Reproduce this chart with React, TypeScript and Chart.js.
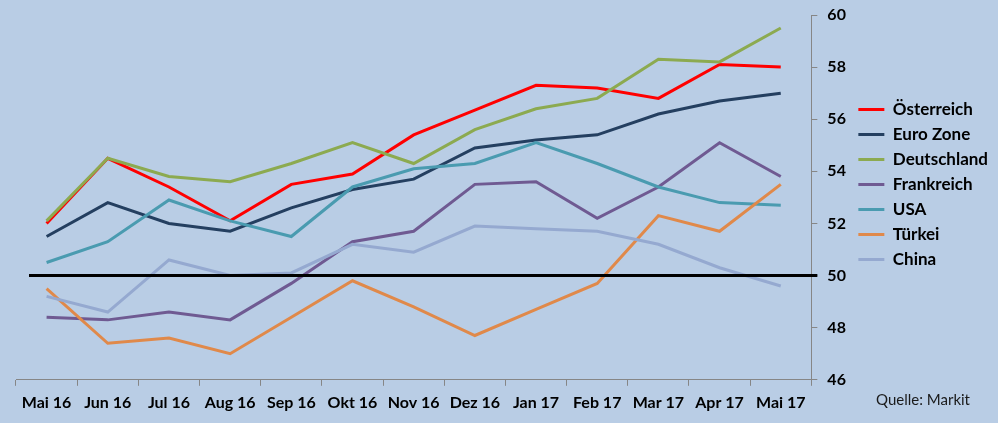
import React, { useEffect, useRef } from 'react';
import { Chart, registerables } from 'chart.js';

Chart.register(...registerables);

const categories = ['Mai 16', 'Jun 16', 'Jul 16', 'Aug 16', 'Sep 16', 'Okt 16', 'Nov 16', 'Dez 16', 'Jan 17', 'Feb 17', 'Mar 17', 'Apr 17', 'Mai 17'];

const oesterreich = [52.0, 54.5, 53.4, 52.1, 53.5, 53.9, 55.4, 56.35, 57.3, 57.2, 56.8, 58.1, 58.0];
const euroZone = [51.5, 52.8, 52.0, 51.7, 52.6, 53.3, 53.7, 54.9, 55.2, 55.4, 56.2, 56.7, 57.0];
const deutschland = [52.1, 54.5, 53.8, 53.6, 54.3, 55.1, 54.3, 55.6, 56.4, 56.8, 58.3, 58.2, 59.5];
const frankreich = [48.4, 48.3, 48.6, 48.3, 49.7, 51.3, 51.7, 53.5, 53.6, 52.2, 53.4, 55.1, 53.8];
const usa = [50.5, 51.3, 52.9, 52.1, 51.5, 53.4, 54.1, 54.3, 55.1, 54.3, 53.4, 52.8, 52.7];
const tuerkei = [49.5, 47.4, 47.6, 47.0, 48.4, 49.8, 48.8, 47.7, 48.7, 49.7, 52.3, 51.7, 53.5];
const china = [49.2, 48.6, 50.6, 50.0, 50.1, 51.2, 50.9, 51.9, 51.8, 51.7, 51.2, 50.3, 49.6];

const seriesNames = ['Österreich', 'Euro Zone', 'Deutschland', 'Frankreich', 'USA', 'Türkei', 'China'];
const seriesValues = [oesterreich, euroZone, deutschland, frankreich, usa, tuerkei, china];
const seriesColors = ['#FF0000', '#243F60', '#8CAA50', '#6F5A92', '#4A9BB0', '#E0894A', '#95A9D0'];

const yMin = 46;
const yMax = 60;
const yStep = 2;
const thresholdValue = 50;
const sourceText = 'Quelle: Markit';

const FONT = 'Lato, "Open Sans", sans-serif';

const thresholdPlugin = {
  id: 'thresholdLine',
  afterDatasetsDraw(chart: any) {
    const { ctx, chartArea, scales } = chart;
    const y = scales.y.getPixelForValue(thresholdValue);
    ctx.save();
    ctx.strokeStyle = '#000000';
    ctx.lineWidth = 3;
    ctx.beginPath();
    ctx.moveTo(chartArea.left + 13, y);
    ctx.lineTo(chartArea.right + 6, y);
    ctx.stroke();
    ctx.restore();
  },
};

const sourcePlugin = {
  id: 'sourceNote',
  afterDraw(chart: any) {
    const { ctx, chartArea } = chart;
    ctx.save();
    ctx.font = '15px ' + FONT;
    ctx.fillStyle = '#1a1a1a';
    ctx.textAlign = 'right';
    ctx.textBaseline = 'middle';
    ctx.fillText(sourceText, chart.width - 28, chartArea.bottom + 20);
    ctx.restore();
  },
};

export default function App() {
  const canvasRef = useRef<HTMLCanvasElement>(null);

  useEffect(() => {
    document.body.style.margin = '0';
    const canvas = canvasRef.current;
    if (!canvas) return;
    const chart = new Chart(canvas, {
      type: 'line',
      data: {
        labels: categories,
        datasets: seriesNames.map((name, i) => ({
          label: name,
          data: seriesValues[i],
          borderColor: seriesColors[i],
          backgroundColor: seriesColors[i],
          borderWidth: 3,
          pointRadius: 0,
          tension: 0,
          fill: false,
          order: seriesNames.length - i,
        })),
      },
      options: {
        animation: false,
        responsive: true,
        maintainAspectRatio: false,
        layout: { padding: { top: 15, left: 16, right: 0, bottom: 4 } },
        plugins: {
          tooltip: { enabled: false },
          legend: {
            position: 'right',
            align: 'start',
            fullSize: false,
            title: { display: true, text: ' ', font: { size: 10 }, padding: { top: 66, bottom: 0 } },
            labels: {
              boxWidth: 26,
              boxHeight: 3,
              padding: 8,
              color: '#000000',
              font: { family: FONT, size: 17, weight: 'bold' },
              sort: (a: any, b: any) => a.datasetIndex - b.datasetIndex,
              generateLabels: (chart: any) => {
                const items = Chart.defaults.plugins.legend.labels.generateLabels(chart);
                return items.map((it: any) => ({ ...it, lineWidth: 0, fillStyle: seriesColors[it.datasetIndex] }));
              },
            },
          },
        },
        scales: {
          x: {
            type: 'category',
            offset: true,
            grid: { display: true, drawOnChartArea: false, offset: true, tickLength: 6, color: '#868686' },
            border: { display: true, color: '#868686', width: 1 },
            ticks: {
              color: '#000000',
              padding: 7,
              maxRotation: 0,
              autoSkip: false,
              font: { family: FONT, size: 16, weight: 'bold' },
            },
          },
          y: {
            position: 'right',
            min: yMin,
            max: yMax,
            afterFit: (s: any) => { s.width = 39; s.paddingTop = 0; s.paddingBottom = 0; },
            grid: { display: true, drawOnChartArea: false, tickLength: 6, color: '#868686' },
            border: { display: true, color: '#868686', width: 1 },
            ticks: {
              stepSize: yStep,
              color: '#000000',
              padding: 10,
              font: { family: FONT, size: 16, weight: 'bold' },
            },
          },
        },
      },
      plugins: [thresholdPlugin, sourcePlugin],
    } as any);
    return () => chart.destroy();
  }, []);

  return (
    <div style={{ width: 998, height: 423, position: 'relative', background: '#B9CDE5' }}>
      <canvas ref={canvasRef} />
    </div>
  );
}
